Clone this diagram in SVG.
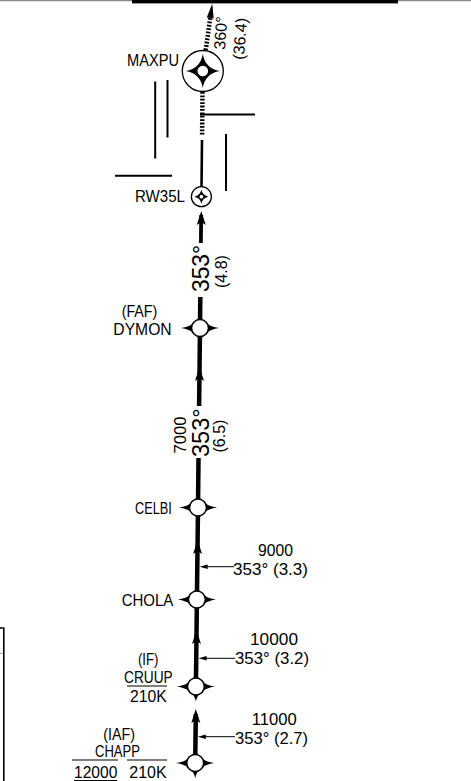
<svg xmlns="http://www.w3.org/2000/svg" xmlns:xlink="http://www.w3.org/1999/xlink" width="471" height="781" viewBox="0 0 471 781">
<style>
  text { font-family: "Liberation Sans", Arial, sans-serif; fill: #000; }
  .nm { font-size: 16px; }
  .lb { font-size: 16.5px; }
  .sm { font-size: 16px; }
  .big { font-size: 24px; }
  .trk { stroke: #000; stroke-width: 4.5; fill: none; }
  .thin { stroke: #000; stroke-width: 1; fill: none; }
  .rwy { stroke: #000; stroke-width: 2; fill: none; }
</style>
<defs>
  <g id="flyby">
    <path d="M0,-15 Q2.5,-2.5 19,0 Q2.5,2.5 0,15 Q-2.5,2.5 -19,0 Q-2.5,-2.5 0,-15 Z" fill="#000"/>
    <circle r="8.5" fill="#fff" stroke="#000" stroke-width="1.6"/>
  </g>
  <path id="arr" d="M0,0 L4.5,14 L0,11 L-4.5,14 Z" fill="#000"/>
  <path id="larr" d="M0,0 L8,-2.3 L8,2.3 Z" fill="#000"/>
</defs>

<g id="frame">
  <line x1="0" y1="0.6" x2="471" y2="0.6" stroke="#888" stroke-width="1.2"/>
  <rect x="132" y="0" width="266" height="3.4" fill="#000"/>
  <path d="M0,628 H3.8 V781" stroke="#000" stroke-width="1.6" fill="none"/>
  <line x1="0" y1="653.3" x2="3" y2="653.3" stroke="#999" stroke-width="1"/>
</g>

<g id="lines">
  <line class="rwy" x1="155.2" y1="81.5" x2="155.2" y2="158.5"/>
  <line class="rwy" x1="167.5" y1="80" x2="167.5" y2="137.5"/>
  <line class="rwy" x1="200" y1="114.6" x2="255" y2="114.6"/>
  <line class="rwy" x1="226" y1="134" x2="226" y2="191"/>
  <line class="rwy" x1="115" y1="175.7" x2="172" y2="175.7"/>
</g>

<g id="connectors">
  <g transform="rotate(8 202.8 71)">
    <line x1="202.8" y1="50" x2="202.8" y2="17" stroke="#000" stroke-width="4.5" stroke-dasharray="1.8 1.6"/>
    <path d="M202.8,3.2 L206.3,17.5 L199.3,17.5 Z" fill="#000"/>
  </g>
  <line x1="202.5" y1="92" x2="202.1" y2="135" stroke="#000" stroke-width="4.5" stroke-dasharray="1.8 1.6"/>
  <line x1="202.0" y1="140" x2="201.5" y2="188" stroke="#000" stroke-width="2.6"/>
  <line x1="201.2" y1="215" x2="200.9" y2="243" stroke="#000" stroke-width="3.8"/>
  <use xlink:href="#arr" transform="translate(201.25 211)"/>
  <line class="trk" x1="200.3" y1="297" x2="200.0" y2="328"/>
  <line class="trk" x1="200.0" y1="328" x2="199.1" y2="406"/>
  <use xlink:href="#arr" transform="translate(199.5 367)"/>
  <line class="trk" x1="198.5" y1="458" x2="198.0" y2="507.5"/>
  <line class="trk" x1="198.0" y1="507.5" x2="196.9" y2="599.5"/>
  <use xlink:href="#arr" transform="translate(197.6 540)"/>
  <line class="trk" x1="196.9" y1="599.5" x2="195.9" y2="686.5"/>
  <use xlink:href="#arr" transform="translate(196.5 630)"/>
  <line class="trk" x1="195.8" y1="714" x2="195.2" y2="763"/>
  <use xlink:href="#arr" transform="translate(195.8 709)"/>
  <line class="thin" x1="206" y1="566.7" x2="234" y2="566.7"/>
  <use xlink:href="#larr" transform="translate(199.6 566.7)"/>
  <line class="thin" x1="205" y1="658.3" x2="235" y2="658.3"/>
  <use xlink:href="#larr" transform="translate(198.6 658.3)"/>
  <line class="thin" x1="204" y1="736.7" x2="235" y2="736.7"/>
  <use xlink:href="#larr" transform="translate(197.8 736.7)"/>
</g>

<g id="seg-labels">
  <text class="sm" transform="translate(225 50) rotate(-86)">360°</text>
  <text class="sm" transform="translate(244 60) rotate(-86)">(36.4)</text>
  <text class="big" transform="translate(209 292) rotate(-90)" textLength="47" lengthAdjust="spacingAndGlyphs">353°</text>
  <text class="sm" transform="translate(226.5 288) rotate(-90)">(4.8)</text>
  <text class="lb" transform="translate(186 453.5) rotate(-90)" textLength="37" lengthAdjust="spacingAndGlyphs">7000</text>
  <text class="big" transform="translate(209.3 457) rotate(-90)" textLength="48.7" lengthAdjust="spacingAndGlyphs">353°</text>
  <text class="sm" transform="translate(225 452.5) rotate(-90)">(6.5)</text>
  <text class="lb" x="258" y="555.5" textLength="35" lengthAdjust="spacingAndGlyphs">9000</text>
  <text class="lb" x="233" y="574.5" textLength="75" lengthAdjust="spacingAndGlyphs">353° (3.3)</text>
  <text class="lb" x="250" y="645" textLength="48" lengthAdjust="spacingAndGlyphs">10000</text>
  <text class="lb" x="235" y="664" textLength="74" lengthAdjust="spacingAndGlyphs">353° (3.2)</text>
  <text class="lb" x="251.7" y="724.5" textLength="45" lengthAdjust="spacingAndGlyphs">11000</text>
  <text class="lb" x="235" y="743.5" textLength="73" lengthAdjust="spacingAndGlyphs">353° (2.7)</text>
</g>

<g id="MAXPU">
  <circle cx="202.8" cy="71" r="20.5" fill="#fff" stroke="#000" stroke-width="1.3"/>
  <path transform="translate(202.8 71)" d="M0,-17 Q2.5,-2.5 17,0 Q2.5,2.5 0,17 Q-2.5,2.5 -17,0 Q-2.5,-2.5 0,-17 Z" fill="#000"/>
  <circle cx="202.8" cy="71" r="6.3" fill="#fff" stroke="#000" stroke-width="2"/>
  <text class="nm" x="127" y="66" textLength="52" lengthAdjust="spacingAndGlyphs">MAXPU</text>
</g>
<g id="RW35L">
  <circle cx="201.4" cy="196.7" r="10" fill="#fff" stroke="#000" stroke-width="1.3"/>
  <path transform="translate(201.4 196.7)" d="M0,-7 Q1.2,-1.2 7,0 Q1.2,1.2 0,7 Q-1.2,1.2 -7,0 Q-1.2,-1.2 0,-7 Z" fill="#000"/>
  <circle cx="201.4" cy="196.7" r="2.3" fill="#fff" stroke="#000" stroke-width="0.9"/>
  <text class="nm" x="135" y="202" textLength="50" lengthAdjust="spacingAndGlyphs">RW35L</text>
</g>
<g id="DYMON">
  <use xlink:href="#flyby" transform="translate(200.0 328)"/>
  <text class="nm" x="121.7" y="316.5" textLength="35.6" lengthAdjust="spacingAndGlyphs">(FAF)</text>
  <text class="nm" x="113.3" y="335" textLength="58.4" lengthAdjust="spacingAndGlyphs">DYMON</text>
</g>
<g id="CELBI">
  <use xlink:href="#flyby" transform="translate(198.0 507.5)"/>
  <text class="nm" x="135" y="514" textLength="36.7" lengthAdjust="spacingAndGlyphs">CELBI</text>
</g>
<g id="CHOLA">
  <use xlink:href="#flyby" transform="translate(196.9 599.5)"/>
  <text class="nm" x="121.7" y="606" textLength="51.6" lengthAdjust="spacingAndGlyphs">CHOLA</text>
</g>
<g id="CRUUP">
  <use xlink:href="#flyby" transform="translate(195.9 686.5)"/>
  <text class="nm" x="138" y="665" textLength="20.3" lengthAdjust="spacingAndGlyphs">(IF)</text>
  <text class="nm" x="124" y="683.3" textLength="48.7" lengthAdjust="spacingAndGlyphs">CRUUP</text>
  <line x1="127" y1="686" x2="167" y2="686" stroke="#000" stroke-width="1.2"/>
  <text class="nm" x="130" y="701.7" textLength="36.7" lengthAdjust="spacingAndGlyphs">210K</text>
</g>
<g id="CHAPP">
  <use xlink:href="#flyby" transform="translate(195.2 763)"/>
  <text class="nm" x="103.3" y="740" textLength="31.7" lengthAdjust="spacingAndGlyphs">(IAF)</text>
  <text class="nm" x="95" y="756.7" textLength="45" lengthAdjust="spacingAndGlyphs">CHAPP</text>
  <line x1="72" y1="760" x2="118" y2="760" stroke="#000" stroke-width="1.2"/>
  <line x1="127" y1="760" x2="167" y2="760" stroke="#000" stroke-width="1.2"/>
  <text class="nm" x="74" y="778.3" textLength="43.3" lengthAdjust="spacingAndGlyphs">12000</text>
  <text class="nm" x="129.3" y="778.3" textLength="37.4" lengthAdjust="spacingAndGlyphs">210K</text>
  <line x1="74" y1="780.5" x2="117" y2="780.5" stroke="#000" stroke-width="1.2"/>
</g>
</svg>
